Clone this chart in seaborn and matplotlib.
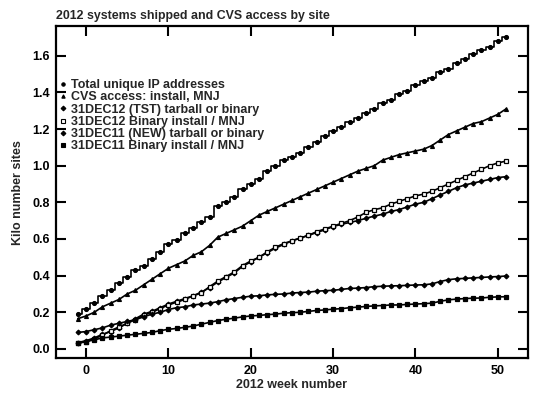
import matplotlib
matplotlib.use("Agg")
import matplotlib.pyplot as plt
import seaborn as sns
from matplotlib.lines import Line2D

# weekly values, week -1 .. 51 (kilo sites)
weeks = list(range(-1, 52))

total_ip = [0.19, 0.22, 0.25, 0.29, 0.32, 0.36, 0.39, 0.43, 0.45, 0.49,
            0.53, 0.57, 0.595, 0.63, 0.66, 0.69, 0.72, 0.78, 0.80, 0.83,
            0.87, 0.90, 0.93, 0.97, 1.00, 1.03, 1.05, 1.07, 1.10, 1.13,
            1.16, 1.19, 1.21, 1.24, 1.26, 1.29, 1.31, 1.34, 1.36, 1.39,
            1.41, 1.44, 1.46, 1.48, 1.51, 1.53, 1.56, 1.58, 1.61, 1.63,
            1.65, 1.68, 1.70]

cvs_access = [0.165, 0.18, 0.20, 0.23, 0.25, 0.27, 0.30, 0.32, 0.35, 0.38,
              0.41, 0.44, 0.46, 0.48, 0.51, 0.53, 0.565, 0.61, 0.63, 0.65,
              0.67, 0.70, 0.73, 0.75, 0.77, 0.79, 0.81, 0.83, 0.85, 0.87,
              0.89, 0.91, 0.93, 0.95, 0.97, 0.985, 1.00, 1.03, 1.045, 1.06,
              1.07, 1.08, 1.09, 1.11, 1.14, 1.17, 1.19, 1.21, 1.23, 1.24,
              1.26, 1.28, 1.31]

dec12_tst = [0.035, 0.045, 0.06, 0.08, 0.095, 0.115, 0.14, 0.165, 0.19, 0.205,
             0.225, 0.245, 0.26, 0.275, 0.29, 0.31, 0.335, 0.365, 0.39, 0.415,
             0.45, 0.475, 0.50, 0.525, 0.55, 0.57, 0.59, 0.605, 0.62, 0.635,
             0.65, 0.668, 0.68, 0.69, 0.70, 0.713, 0.725, 0.735, 0.75, 0.76,
             0.775, 0.79, 0.80, 0.82, 0.84, 0.86, 0.88, 0.895, 0.905, 0.915,
             0.925, 0.935, 0.94]

dec12_binary = [0.03, 0.04, 0.055, 0.075, 0.10, 0.12, 0.14, 0.16, 0.185, 0.20,
                0.22, 0.24, 0.255, 0.27, 0.29, 0.305, 0.34, 0.37, 0.395, 0.42,
                0.455, 0.48, 0.50, 0.53, 0.555, 0.575, 0.59, 0.605, 0.62, 0.64,
                0.655, 0.67, 0.685, 0.70, 0.72, 0.745, 0.76, 0.77, 0.79, 0.805,
                0.82, 0.835, 0.845, 0.86, 0.88, 0.90, 0.92, 0.94, 0.96, 0.98,
                1.00, 1.015, 1.025]

dec11_new = [0.09, 0.095, 0.105, 0.115, 0.13, 0.14, 0.15, 0.16, 0.175, 0.19,
             0.20, 0.215, 0.225, 0.23, 0.24, 0.245, 0.25, 0.258, 0.268, 0.275,
             0.282, 0.288, 0.29, 0.295, 0.298, 0.30, 0.305, 0.308, 0.31, 0.315,
             0.318, 0.32, 0.325, 0.33, 0.332, 0.335, 0.34, 0.342, 0.344, 0.345,
             0.347, 0.349, 0.35, 0.355, 0.368, 0.378, 0.383, 0.385, 0.388, 0.39,
             0.393, 0.395, 0.398]

dec11_binary = [0.034, 0.04, 0.05, 0.06, 0.065, 0.07, 0.075, 0.08, 0.085, 0.09,
                0.10, 0.107, 0.112, 0.118, 0.125, 0.135, 0.145, 0.155, 0.162, 0.168,
                0.175, 0.18, 0.183, 0.187, 0.19, 0.195, 0.198, 0.20, 0.205, 0.21,
                0.213, 0.217, 0.22, 0.225, 0.228, 0.232, 0.235, 0.237, 0.24, 0.24,
                0.243, 0.245, 0.247, 0.25, 0.26, 0.268, 0.272, 0.275, 0.277, 0.278,
                0.282, 0.284, 0.285]

labels = ["Total unique IP addresses",
          "CVS access: install, MNJ",
          "31DEC12 (TST) tarball or binary",
          "31DEC12 Binary install / MNJ",
          "31DEC11 (NEW) tarball or binary",
          "31DEC11 Binary install / MNJ"]

sns.set_theme(style="ticks")
plt.rcParams['font.family'] = ['Liberation Sans', 'DejaVu Sans']
plt.rcParams['font.weight'] = 'bold'

fig = plt.figure(figsize=(5.4, 3.97), dpi=100)
ax = fig.add_axes([0.1028, 0.097, 0.8741, 0.8375])

# (data, marker, facecolor, size)
series = [
    (total_ip, 'o', 'black', 2.8),
    (cvs_access, '^', 'black', 2.8),
    (dec12_tst, 'D', 'black', 2.4),
    (dec12_binary, 's', 'white', 2.8),
    (dec11_new, 'D', 'black', 2.4),
    (dec11_binary, 's', 'black', 2.6),
]

handles = []
for (vals, mk, fc, ms), lab in zip(series, labels):
    kw = {}
    if vals is total_ip:
        kw['drawstyle'] = 'steps-mid'
    sns.lineplot(x=weeks, y=vals, ax=ax, color='black', linewidth=1.2,
                 marker=mk, markersize=ms, markerfacecolor=fc,
                 markeredgecolor='black', markeredgewidth=0.9, **kw)
    handles.append(Line2D([], [], linestyle='', marker=mk, markersize=2.4,
                          markerfacecolor=fc, markeredgecolor='black',
                          markeredgewidth=0.8, label=lab))

ax.set_xlim(-3.7, 53.6)
ax.set_ylim(-0.052, 1.762)
ax.set_xticks([0, 10, 20, 30, 40, 50])
ax.set_yticks([0.0, 0.2, 0.4, 0.6, 0.8, 1.0, 1.2, 1.4, 1.6])
ax.set_yticklabels(["0.0", "0.2", "0.4", "0.6", "0.8", "1.0", "1.2", "1.4", "1.6"])

ax.tick_params(direction='in', length=7.5, width=1.5, top=True, right=True,
               labelsize=9, colors='black')
ax.tick_params(axis='x', pad=5)
ax.tick_params(axis='y', pad=4)
for sp in ax.spines.values():
    sp.set_linewidth(1.6)
    sp.set_color('black')

ax.set_xlabel("2012 week number", fontsize=9, fontweight='bold', labelpad=1)
ax.set_ylabel("Kilo number sites", fontsize=9, fontweight='bold', labelpad=6)
ax.set_title("2012 systems shipped and CVS access by site", loc='left',
             fontsize=8.9, fontweight='bold', pad=5)

leg = ax.legend(handles=handles, loc='upper left', frameon=False,
                fontsize=9, handlelength=0.4, handletextpad=0.45,
                labelspacing=0.02, borderaxespad=0.0,
                bbox_to_anchor=(0.0, 0.855))
for t in leg.get_texts():
    t.set_fontweight('bold')

fig.savefig("out.png", dpi=100)
